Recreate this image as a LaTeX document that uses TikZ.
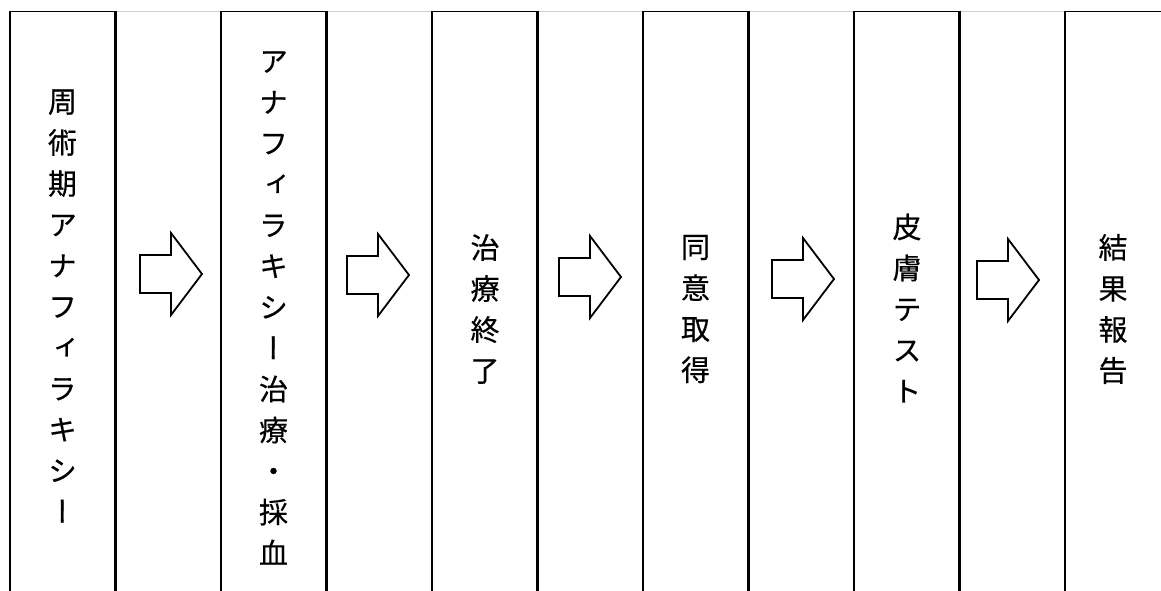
\documentclass[tikz,border=0pt]{standalone}
\usepackage{fontspec}
\newfontfamily\jpfont[RawFeature=+vert,FakeBold=0.4]{Noto Sans CJK JP}
\definecolor{topgraycol}{RGB}{208,208,208}
\tikzset{
  vtext/.style={align=center, inner sep=0pt, font=\jpfont\fontsize{29}{41}\selectfont},
  cellline/.style={line width=2.2pt, black},
  edgeline/.style={line width=1.3pt, black},
  topblack/.style={line width=1.5pt, black},
  topgray/.style={line width=1.5pt, topgraycol},
  blockarrow/.style={line width=1.8pt, draw=black, fill=white, line join=miter},
}
\newcommand\flowarrow[2]{%
  \draw[blockarrow] (#1-31,#2-19) -- (#1,#2-19) -- (#1,#2-41) -- (#1+31,#2)
    -- (#1,#2+41) -- (#1,#2+19) -- (#1-31,#2+19) -- cycle;}
\begin{document}
\begin{tikzpicture}[x=1pt,y=-1pt]
\useasboundingbox (0,0) rectangle (1161,591);
\fill[white] (0,0) rectangle (1161,591);
% top borders
\draw[topgray] (115.5,11.5) -- (221,11.5);
\draw[topgray] (326.5,11.5) -- (432,11.5);
\draw[topgray] (537.5,11.5) -- (643,11.5);
\draw[topgray] (748.5,11.5) -- (854,11.5);
\draw[topgray] (959.5,11.5) -- (1065,11.5);
\draw[topblack] (10,11.5) -- (115.5,11.5);
\draw[topblack] (221,11.5) -- (326.5,11.5);
\draw[topblack] (432,11.5) -- (537.5,11.5);
\draw[topblack] (643,11.5) -- (748.5,11.5);
\draw[topblack] (854,11.5) -- (959.5,11.5);
\draw[topblack] (1065,11.5) -- (1161,11.5);
% vertical lines
\draw[edgeline] (10,10.8) -- (10,591);
\foreach \x in {115.5,221,326.5,432,537.5,643,748.5,854,959.5,1065}
  \draw[cellline] (\x,10.8) -- (\x,591);
% texts
\node[vtext] (t1) at (62.5,306) {周\\術\\期\\ア\\ナ\\フ\\ィ\\ラ\\キ\\シ\\ー};
\node[vtext] (t2) at (273.5,308) {ア\\ナ\\フ\\ィ\\ラ\\キ\\シ\\ー\\治\\療\\・\\採\\血};
\node[vtext] (t3) at (485,309) {治\\療\\終\\了};
\node[vtext] (t4) at (695.5,309) {同\\意\\取\\得};
\node[vtext] (t5) at (907,308) {皮\\膚\\テ\\ス\\ト};
\node[vtext] (t6) at (1113,309) {結\\果\\報\\告};
% arrows
\flowarrow{171}{274}
\flowarrow{378}{275}
\flowarrow{590}{277}
\flowarrow{803}{279}
\flowarrow{1008}{280}
\end{tikzpicture}
\end{document}
